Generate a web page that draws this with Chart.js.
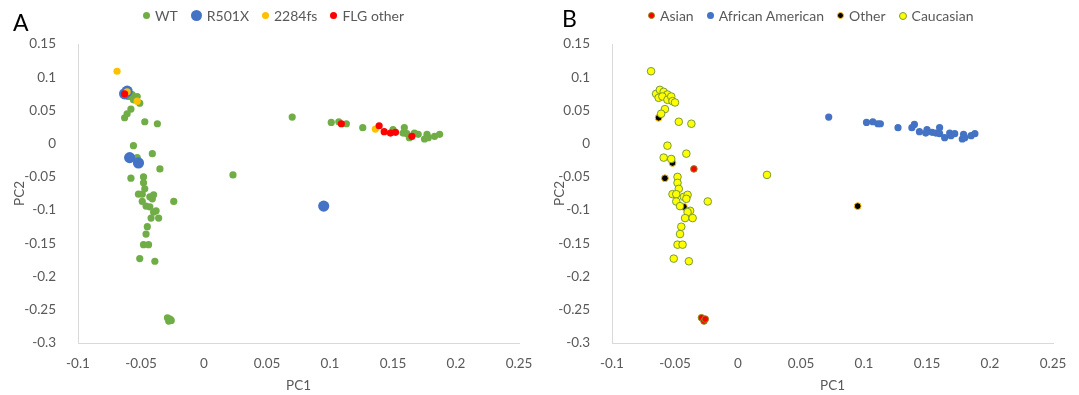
<!DOCTYPE html>
<html>
<head>
<meta charset="utf-8">
<script src="https://cdn.jsdelivr.net/npm/chart.js@4.4.1/dist/chart.umd.min.js"></script>
<style>
    body { margin: 0; background: #fff; font-family: Lato, 'Noto Sans', sans-serif; }
    .panel { position: absolute; top: 0; height: 395px; }
    .panel-letter { position: absolute; font-size: 23px; color: #000; }
    .legend { position: absolute; top: 7px; display: flex; align-items: center; font-size: 14px; color: #595959; white-space: nowrap; }
    .legend-item { display: flex; align-items: center; margin-right: 13px; }
    .legend-dot { display: inline-block; border-radius: 50%; margin-right: 5px; box-sizing: border-box; }
</style>
</head>
<body>
<div class="panel" id="panelA" style="left:0; width:540px;">
    <canvas id="chartA" width="540" height="395"></canvas>
    <div class="panel-letter" style="left:13px; top:8px;">A</div>
    <div class="legend" id="legendA" style="left:143px;"></div>
</div>
<div class="panel" id="panelB" style="left:540px; width:539px;">
    <canvas id="chartB" width="539" height="395"></canvas>
    <div class="panel-letter" style="left:22px; top:4px;">B</div>
    <div class="legend" id="legendB" style="left:108px;"></div>
</div>

<script>
// Axis ticks (same for both panels)
const xTickValues = [-0.1, -0.05, 0, 0.05, 0.1, 0.15, 0.2, 0.25];
const yTickValues = [0.15, 0.1, 0.05, 0, -0.05, -0.1, -0.15, -0.2, -0.25, -0.3];

// Panel A: FLG genotype, [PC1, PC2]
const wtPoints = [
    [-0.057, 0.074], [-0.060, 0.071], [-0.056, 0.066], [-0.053, 0.071], [-0.051, 0.061],
    [-0.058, 0.052], [-0.061, 0.045], [-0.063, 0.039], [-0.047, 0.033], [-0.037, 0.030],
    [-0.056, -0.003], [-0.041, -0.015], [-0.053, -0.021], [-0.035, -0.038], [-0.058, -0.052],
    [-0.048, -0.050], [-0.048, -0.059], [-0.047, -0.068], [-0.052, -0.076], [-0.049, -0.076],
    [-0.043, -0.080], [-0.040, -0.077], [-0.041, -0.083], [-0.049, -0.087], [-0.024, -0.087],
    [-0.046, -0.094], [-0.043, -0.095], [-0.038, -0.101], [-0.040, -0.103], [-0.042, -0.112],
    [-0.036, -0.112], [-0.045, -0.125], [-0.046, -0.136], [-0.048, -0.152], [-0.044, -0.152],
    [-0.051, -0.173], [-0.039, -0.177], [0.023, -0.047],
    [-0.029, -0.262], [-0.028, -0.267], [-0.026, -0.266], [-0.027, -0.264],
    [0.070, 0.040], [0.101, 0.032], [0.107, 0.033], [0.113, 0.030], [0.126, 0.024],
    [0.150, 0.021], [0.159, 0.024], [0.158, 0.016], [0.161, 0.015], [0.163, 0.009],
    [0.167, 0.016], [0.170, 0.014], [0.175, 0.007], [0.177, 0.014], [0.178, 0.009],
    [0.183, 0.011], [0.187, 0.014]
];
const r501xPoints = [[-0.063, 0.075], [-0.061, 0.079], [-0.059, -0.021], [-0.052, -0.029], [0.095, -0.094]];
const fs2284Points = [[-0.069, 0.109], [-0.061, 0.078], [-0.053, 0.064], [0.136, 0.022]];
const flgOtherPoints = [[-0.063, 0.075], [0.109, 0.030], [0.139, 0.027], [0.143, 0.018], [0.148, 0.016], [0.152, 0.017], [0.165, 0.011]];

// Panel B: ethnicity, [PC1, PC2]
const asianPoints = [[-0.035, -0.038], [-0.029, -0.262], [-0.027, -0.267], [-0.026, -0.264]];
const africanAmericanPoints = [
    [0.072, 0.040], [0.102, 0.032], [0.107, 0.033], [0.111, 0.030], [0.113, 0.030],
    [0.127, 0.024], [0.138, 0.024], [0.140, 0.029], [0.144, 0.018], [0.150, 0.021],
    [0.149, 0.016], [0.154, 0.017], [0.157, 0.016], [0.160, 0.024], [0.160, 0.015],
    [0.164, 0.009], [0.168, 0.016], [0.169, 0.012], [0.172, 0.015], [0.178, 0.007],
    [0.179, 0.014], [0.180, 0.009], [0.185, 0.012], [0.188, 0.015]
];
const otherPoints = [[-0.063, 0.039], [-0.052, -0.029], [-0.058, -0.052], [-0.043, -0.095], [0.095, -0.094]];
const caucasianPoints = [
    [-0.069, 0.109], [-0.065, 0.075], [-0.062, 0.081], [-0.059, 0.078], [-0.056, 0.074],
    [-0.063, 0.069], [-0.060, 0.071], [-0.056, 0.066], [-0.053, 0.071], [-0.052, 0.064],
    [-0.050, 0.062], [-0.058, 0.052], [-0.061, 0.045], [-0.047, 0.033], [-0.037, 0.030],
    [-0.056, -0.003], [-0.041, -0.015], [-0.059, -0.021], [-0.053, -0.023], [-0.048, -0.050],
    [-0.048, -0.059], [-0.047, -0.068], [-0.052, -0.076], [-0.049, -0.076], [-0.043, -0.080],
    [-0.040, -0.077], [-0.041, -0.083], [-0.049, -0.087], [-0.024, -0.087], [-0.046, -0.094],
    [-0.038, -0.101], [-0.040, -0.103], [-0.042, -0.112], [-0.036, -0.112], [-0.045, -0.125],
    [-0.046, -0.136], [-0.048, -0.152], [-0.044, -0.152], [-0.051, -0.173], [-0.039, -0.177],
    [0.023, -0.047]
];

const tickColor = '#595959';
const axisLine = '#D9D9D9';

function toXY(list) {
    return list.map(p => ({ x: p[0], y: p[1] }));
}

function fmt(v) {
    return String(parseFloat(Number(v).toFixed(2)));
}

function makeOptions(axisWidth) {
    return {
        responsive: false,
        animation: false,
        layout: { padding: { top: 44, right: 0, bottom: 0, left: 0 } },
        plugins: { legend: { display: false }, tooltip: { enabled: false } },
        scales: {
            x: {
                type: 'linear',
                min: -0.1,
                max: 0.25,
                grid: { display: false },
                border: { color: axisLine, width: 1 },
                afterBuildTicks: axis => { axis.ticks = xTickValues.map(v => ({ value: v })); },
                afterFit: scale => { scale.height = 52; },
                ticks: { color: tickColor, font: { family: 'Lato', size: 13.5 }, padding: 5, maxRotation: 0, autoSkip: false, callback: v => fmt(v) },
                title: { display: true, text: 'PC1', color: tickColor, font: { family: 'Lato', size: 13.5 }, padding: { top: 0, bottom: 1 } }
            },
            y: {
                type: 'linear',
                min: -0.3,
                max: 0.15,
                grid: { display: false },
                border: { color: axisLine, width: 1 },
                afterBuildTicks: axis => { axis.ticks = yTickValues.map(v => ({ value: v })); },
                afterFit: scale => { scale.width = axisWidth; },
                ticks: { color: tickColor, font: { family: 'Lato', size: 13.5 }, padding: 14, autoSkip: false, callback: v => fmt(v) },
                title: { display: true, text: 'PC2', color: tickColor, font: { family: 'Lato', size: 13.5 }, padding: { top: 12, bottom: 0 } }
            }
        }
    };
}

function buildLegend(el, items) {
    items.forEach(it => {
        const item = document.createElement('span');
        item.className = 'legend-item';
        const dot = document.createElement('span');
        dot.className = 'legend-dot';
        dot.style.width = it.size + 'px';
        dot.style.height = it.size + 'px';
        dot.style.background = it.color;
        if (it.border) dot.style.border = '1px solid ' + it.border;
        item.appendChild(dot);
        item.appendChild(document.createTextNode(it.label));
        el.appendChild(item);
    });
}

// Panel A
const seriesA = [
    { label: 'WT', data: wtPoints, color: '#70AD47', radius: 3.6, size: 7, order: 4 },
    { label: 'R501X', data: r501xPoints, color: '#4472C4', radius: 5.6, size: 11, order: 3 },
    { label: '2284fs', data: fs2284Points, color: '#FFC000', radius: 3.6, size: 7, order: 2 },
    { label: 'FLG other', data: flgOtherPoints, color: '#FF0000', radius: 3.6, size: 7, order: 1 }
];

const optsA = makeOptions(78);
optsA.layout.padding.right = 21;
new Chart(document.getElementById('chartA'), {
    type: 'scatter',
    data: {
        datasets: seriesA.map(s => ({
            label: s.label,
            data: toXY(s.data),
            backgroundColor: s.color,
            borderWidth: 0,
            pointRadius: s.radius,
            order: s.order
        }))
    },
    options: optsA
});
buildLegend(document.getElementById('legendA'), seriesA);

// Panel B
const seriesB = [
    { label: 'Asian', data: asianPoints, color: '#FF0000', border: '#8E8A1A', radius: 3.3, size: 7, order: 4 },
    { label: 'African American', data: africanAmericanPoints, color: '#4472C4', border: null, radius: 3.6, size: 7, order: 3 },
    { label: 'Other', data: otherPoints, color: '#000000', border: '#FFC000', radius: 3.4, size: 7, order: 2 },
    { label: 'Caucasian', data: caucasianPoints, color: '#FFFF00', border: '#7A9A3A', radius: 3.8, size: 8, order: 1 }
];

const optsB = makeOptions(72);
optsB.layout.padding.right = 26;
new Chart(document.getElementById('chartB'), {
    type: 'scatter',
    data: {
        datasets: seriesB.map(s => ({
            label: s.label,
            data: toXY(s.data),
            backgroundColor: s.color,
            borderColor: s.border || s.color,
            borderWidth: s.border ? 1 : 0,
            pointRadius: s.radius,
            order: s.order
        }))
    },
    options: optsB
});
buildLegend(document.getElementById('legendB'), seriesB);
</script>
</body>
</html>
